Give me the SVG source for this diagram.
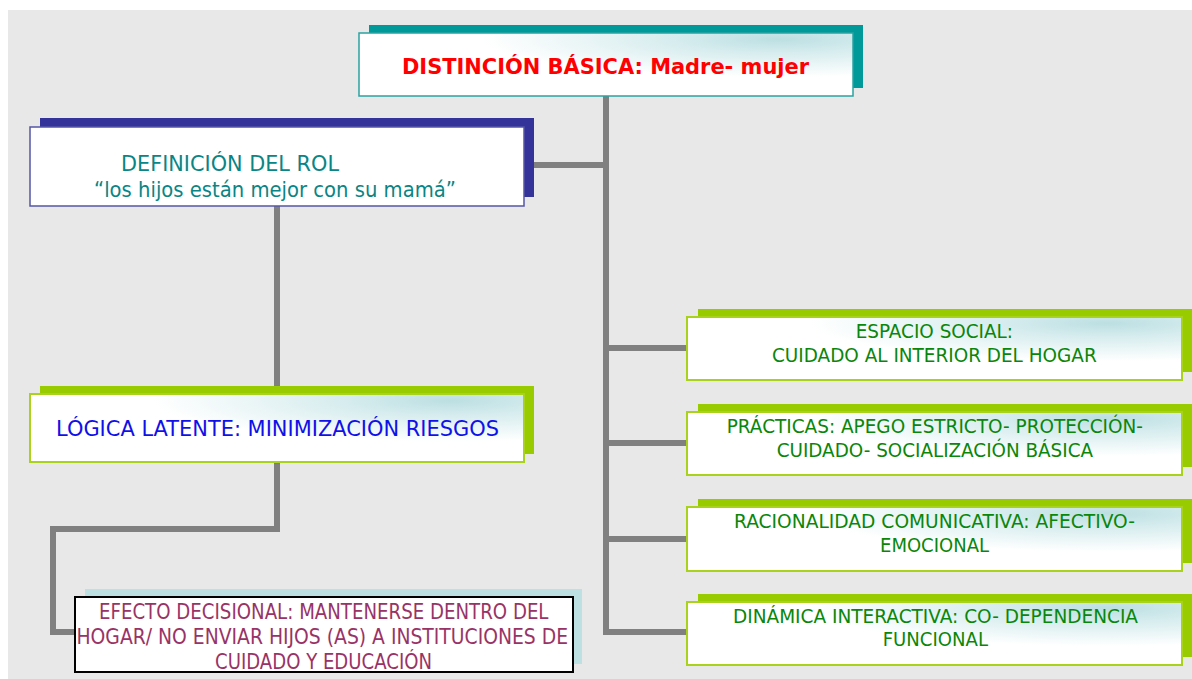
<svg xmlns="http://www.w3.org/2000/svg" width="1192" height="679" viewBox="0 0 1192 679">
<defs>
<radialGradient id="glow" cx="0.85" cy="0.1" r="0.6">
<stop offset="0" stop-color="#bcdfe2"/>
<stop offset="0.35" stop-color="#d6ecee"/>
<stop offset="1" stop-color="#ffffff"/>
</radialGradient>
<style>
.conn{fill:none;stroke:#808080;stroke-width:6;stroke-linejoin:miter;stroke-linecap:butt}
.t{font-family:"DejaVu Sans","Liberation Sans",sans-serif}
.shT{fill:#009999}
.shB{fill:#333399}
.shG{fill:#99cc00}
.shC{fill:#bde0e3}
.bxT{fill:url(#glow);stroke:#2aa3a3;stroke-width:1.5}
.bxB{fill:#ffffff;stroke:#5555a8;stroke-width:1.5}
.bxG{fill:url(#glow);stroke:#a8d21c;stroke-width:2}
.bxK{fill:#ffffff;stroke:#000000;stroke-width:2}
.g{fill:#0a860a;font-size:19.5px}
</style>
</defs>
<rect x="8" y="10" width="1184" height="669" fill="#e8e8e8"/>
<g id="connectors">
<path class="conn" d="M606,96 V632 H688"/>
<path class="conn" d="M534,165 H606"/>
<path class="conn" d="M606,348 H688"/>
<path class="conn" d="M606,443 H688"/>
<path class="conn" d="M606,539 H688"/>
<path class="conn" d="M277,206 V393"/>
<path class="conn" d="M277,462 V529 H53 V632 H76"/>
</g>
<g id="distincion">
<rect class="shT" x="369" y="25" width="494" height="63"/>
<rect class="bxT" x="359" y="33" width="494" height="63"/>
<text class="t" x="402" y="74" fill="#ff0000" font-weight="bold" font-size="21px" textLength="407" lengthAdjust="spacingAndGlyphs">DISTINCIÓN BÁSICA: Madre- mujer</text>
</g>
<g id="definicion">
<rect class="shB" x="40" y="118" width="494" height="79"/>
<rect class="bxB" x="30" y="127" width="494" height="79"/>
<text class="t" fill="#0a8585" font-size="22px"><tspan x="121" y="171" textLength="218" lengthAdjust="spacingAndGlyphs">DEFINICIÓN DEL ROL</tspan><tspan x="94" y="197" textLength="362" lengthAdjust="spacingAndGlyphs">“los hijos están mejor con su mamá”</tspan></text>
</g>
<g id="logica">
<rect class="shG" x="40" y="386" width="494" height="68"/>
<rect class="bxG" x="30" y="394" width="494" height="68"/>
<text class="t" x="56" y="436" fill="#1010e8" font-size="22px" textLength="443" lengthAdjust="spacingAndGlyphs">LÓGICA LATENTE: MINIMIZACIÓN RIESGOS</text>
</g>
<g id="efecto">
<rect class="shC" x="85" y="589" width="497" height="75"/>
<rect class="bxK" x="75" y="597" width="498" height="75"/>
<text class="t" fill="#993366" font-size="21px"><tspan x="99" y="618.5" textLength="449.5" lengthAdjust="spacingAndGlyphs">EFECTO DECISIONAL: MANTENERSE DENTRO DEL</tspan><tspan x="76.5" y="644" textLength="491.5" lengthAdjust="spacingAndGlyphs">HOGAR/ NO ENVIAR HIJOS (AS) A INSTITUCIONES DE</tspan><tspan x="215" y="669" textLength="217" lengthAdjust="spacingAndGlyphs">CUIDADO Y EDUCACIÓN</tspan></text>
</g>
<g id="espacio">
<rect class="shG" x="698" y="309" width="494" height="63"/>
<rect class="bxG" x="687" y="317" width="495" height="63"/>
<text class="t g"><tspan x="855.7" y="337.7" textLength="157.3" lengthAdjust="spacingAndGlyphs">ESPACIO SOCIAL:</tspan><tspan x="772" y="362.3" textLength="324.7" lengthAdjust="spacingAndGlyphs">CUIDADO AL INTERIOR DEL HOGAR</tspan></text>
</g>
<g id="practicas">
<rect class="shG" x="698" y="404" width="494" height="63"/>
<rect class="bxG" x="687" y="412" width="495" height="63"/>
<text class="t g"><tspan x="726.7" y="433.3" textLength="416.3" lengthAdjust="spacingAndGlyphs">PRÁCTICAS: APEGO ESTRICTO- PROTECCIÓN-</tspan><tspan x="776.7" y="456.7" textLength="316.3" lengthAdjust="spacingAndGlyphs">CUIDADO- SOCIALIZACIÓN BÁSICA</tspan></text>
</g>
<g id="racionalidad">
<rect class="shG" x="698" y="499" width="494" height="64"/>
<rect class="bxG" x="687" y="507" width="495" height="64"/>
<text class="t g"><tspan x="734" y="528.3" textLength="401" lengthAdjust="spacingAndGlyphs">RACIONALIDAD COMUNICATIVA: AFECTIVO-</tspan><tspan x="880" y="551.7" textLength="109" lengthAdjust="spacingAndGlyphs">EMOCIONAL</tspan></text>
</g>
<g id="dinamica">
<rect class="shG" x="698" y="594" width="494" height="63"/>
<rect class="bxG" x="687" y="602" width="495" height="63"/>
<text class="t g"><tspan x="733" y="623.3" textLength="405" lengthAdjust="spacingAndGlyphs">DINÁMICA INTERACTIVA: CO- DEPENDENCIA</tspan><tspan x="882.7" y="646" textLength="105.3" lengthAdjust="spacingAndGlyphs">FUNCIONAL</tspan></text>
</g>
</svg>
